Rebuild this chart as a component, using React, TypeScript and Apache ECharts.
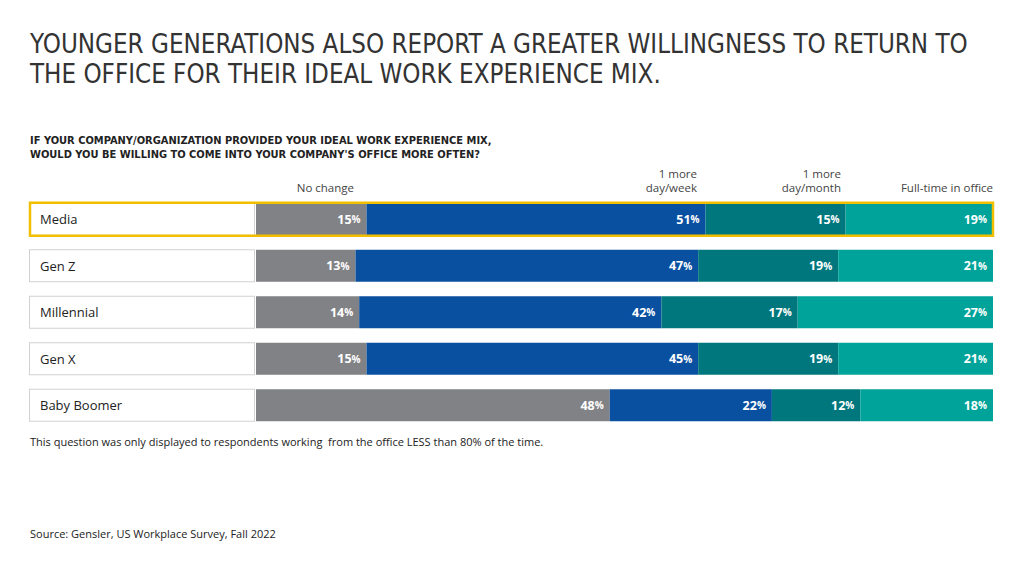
import React, { useEffect, useRef } from "react";
import * as echarts from "echarts";

const categories = ["Media", "Gen Z", "Millennial", "Gen X", "Baby Boomer"];
const seriesNames = ["No change", "1 more day/week", "1 more day/month", "Full-time in office"];
const headerTexts = ["No change", "1 more\nday/week", "1 more\nday/month", "Full-time in office"];

// Segment lengths as drawn in the picture (percent of bar)
const noChangeBar = [15, 13.5, 14, 15, 48];
const weekBar = [46, 46.5, 41, 45, 22];
const monthBar = [19, 19, 18.5, 19, 12];
const fullTimeBar = [20, 21, 26.5, 21, 18];

// Printed labels
const noChangeLabel = [15, 13, 14, 15, 48];
const weekLabel = [51, 47, 42, 45, 22];
const monthLabel = [15, 19, 17, 19, 12];
const fullTimeLabel = [19, 21, 27, 21, 18];

const highlighted = ["Media"];

const colors = ["#818285", "#0a50a1", "#00777d", "#00a399"];

const TITLE = [
  "YOUNGER GENERATIONS ALSO REPORT A GREATER WILLINGNESS TO RETURN TO",
  "THE OFFICE FOR THEIR IDEAL WORK EXPERIENCE MIX.",
];
const SUBTITLE = [
  "IF YOUR COMPANY/ORGANIZATION PROVIDED YOUR IDEAL WORK EXPERIENCE MIX,",
  "WOULD YOU BE WILLING TO COME INTO YOUR COMPANY'S OFFICE MORE OFTEN?",
];
const FOOTNOTE = "This question was only displayed to respondents working  from the office LESS than 80% of the time.";
const SOURCE = "Source: Gensler, US Workplace Survey, Fall 2022";

export default function App() {
  const ref = useRef<HTMLDivElement>(null);
  useEffect(() => {
    if (!ref.current) return;
    const chart = echarts.init(ref.current, null, { renderer: "svg" });
    const font = "'Open Sans', 'Noto Sans', sans-serif";
    const narrow = "'Liberation Sans Narrow', 'DejaVu Sans Condensed', Roboto, sans-serif";
    const bars = [noChangeBar, weekBar, monthBar, fullTimeBar];
    const labels = [noChangeLabel, weekLabel, monthLabel, fullTimeLabel];
    const headerRight = [354, 697, 841, 993];
    const LABEL_W = 226;

    const graphic: any[] = [];
    TITLE.forEach((t, i) =>
      graphic.push({
        type: "text",
        left: 30,
        top: 31 + i * 30,
        style: { text: t, fontFamily: narrow, fontWeight: 300, fontSize: 25.7, fill: "#333" },
      })
    );
    SUBTITLE.forEach((t, i) =>
      graphic.push({
        type: "text",
        left: 30,
        top: 135 + i * 14,
        style: { text: t, fontFamily: narrow, fontWeight: "bold", fontSize: 11, fill: "#222" },
      })
    );
    headerTexts.forEach((t, i) => {
      graphic.push({
        type: "text",
        x: headerRight[i],
        y: 194,
        style: {
          text: t,
          fontFamily: font,
          fontSize: 11.5,
          lineHeight: 14,
          fill: "#444",
          align: "right",
          verticalAlign: "bottom",
        },
      });
    });
    graphic.push({
      type: "text",
      left: 30,
      top: 436,
      style: { text: FOOTNOTE, fontFamily: font, fontSize: 11, fill: "#222" },
    });
    graphic.push({
      type: "text",
      left: 30,
      top: 528,
      style: { text: SOURCE, fontFamily: font, fontSize: 11, fill: "#222" },
    });

    const barSeries = seriesNames.map((name, si) => ({
      type: "bar",
      name,
      stack: "total",
      barWidth: 32,
      itemStyle: { color: colors[si] },
      data: bars[si],
      label: {
        show: true,
        position: "insideRight",
        distance: 6,
        formatter: (p: any) => `{n|${labels[si][p.dataIndex]}}{p|%}`,
        rich: {
          n: { fontFamily: font, fontWeight: "bold", fontSize: 12.5, color: "#fff" },
          p: { fontFamily: font, fontWeight: "bold", fontSize: 10, color: "#fff" },
        },
      },
      z: 2,
    }));

    chart.setOption({
      animation: false,
      backgroundColor: "#fff",
      graphic,
      grid: { left: 256, right: 31, top: 196, height: 232.5 },
      xAxis: { type: "value", min: 0, max: 100, show: false },
      yAxis: {
        type: "category",
        data: categories,
        inverse: true,
        axisLine: { show: false },
        axisTick: { show: false },
        axisLabel: {
          margin: LABEL_W,
          align: "left",
          fontFamily: font,
          fontSize: 13,
          color: "#222",
          backgroundColor: "#fff",
          borderColor: "#d2d2d2",
          borderWidth: 1,
          width: LABEL_W - 12,
          height: 31,
          lineHeight: 31,
          padding: [0, 0, 0, 10],
        },
      },
      series: [
        ...barSeries,
        {
          type: "custom",
          z: 10,
          silent: true,
          encode: { x: 0, y: 1 },
          data: highlighted.map((c) => [0, c]),
          renderItem: (params: any, api: any) => {
            const p0 = api.coord([0, api.value(1)]);
            const p1 = api.coord([100, api.value(1)]);
            return {
              type: "rect",
              shape: { x: p0[0] - LABEL_W, y: p0[1] - 16.5, width: p1[0] - p0[0] + LABEL_W, height: 33 },
              style: { fill: "none", stroke: "#f2bf00", lineWidth: 2.5 },
            };
          },
        },
      ],
    });
    return () => chart.dispose();
  }, []);
  return <div ref={ref} style={{ position: "fixed", left: 0, top: 0, width: 1024, height: 576 }} />;
}
